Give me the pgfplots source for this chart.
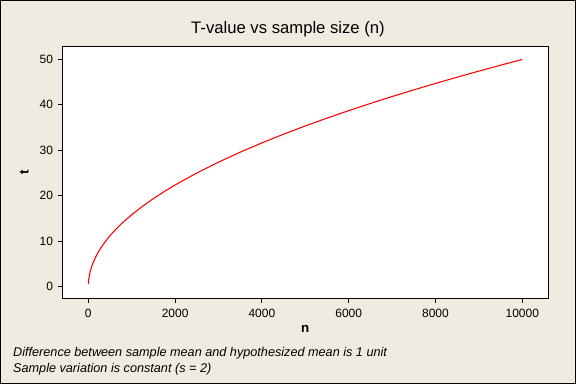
\documentclass[border=0pt]{standalone}
\usepackage{fontspec}
\setmainfont{Liberation Sans}
\usepackage{pgfplots}
\pgfplotsset{compat=1.18}
\definecolor{bgbeige}{RGB}{239,235,225}
\begin{document}
\begin{tikzpicture}[x=0.75pt,y=0.75pt]
\useasboundingbox (0,0) rectangle (576,384);
\fill[bgbeige] (0,0) rectangle (576,384);
\draw[black,line width=0.75pt] (0.375,0.375) rectangle (575.625,383.625);
\node[anchor=base,inner sep=0pt,font=\fontsize{12.5}{14}\selectfont] at (288,350.7) {T-value vs sample size (n)};
\node[anchor=base west,inner sep=0pt,font=\fontsize{9.5}{11}\selectfont\itshape] at (12.9,27.6) {Difference between sample mean and hypothesized mean is 1 unit};
\node[anchor=base west,inner sep=0pt,font=\fontsize{9.5}{11}\selectfont\itshape] at (12.9,11.6) {Sample variation is constant (s = 2)};
\begin{axis}[
  at={(46.725pt,64.275pt)}, anchor=south west,
  width=364.5pt, height=189pt, scale only axis,
  xmin=-600, xmax=10600, ymin=-2.6, ymax=52.9,
  xtick={0,2000,4000,6000,8000,10000},
  ytick={0,10,20,30,40,50},
  scaled x ticks=false,
  tick align=outside, xtick pos=lower, ytick pos=left,
  major tick length=3.4pt,
  tick style={black,line width=0.75pt},
  axis line style={black,line width=0.75pt},
  axis background/.style={fill=white},
  /pgf/number format/assume math mode=true,
  /pgf/number format/1000 sep={},
  ticklabel style={font=\fontsize{9}{10}\selectfont},
  xticklabel style={yshift=-1.5pt},
  xlabel={\textbf{n}}, ylabel={\textbf{t}},
  xlabel style={at={(axis description cs:0.5,-0.122)},anchor=center,font=\fontsize{10}{12}\selectfont},
  ylabel style={at={(axis description cs:-0.078,0.5)},anchor=center,font=\fontsize{10}{12}\selectfont},
]
\addplot[red,line width=0.8pt] coordinates {
(1,0.5) (2,0.7071) (3,0.8660) (5,1.1180) (10,1.5811) (15,1.9365) (20,2.2361) (30,2.7386)
(50,3.5355) (75,4.3301) (100,5) (150,6.1237) (200,7.0711) (250,7.9057) (300,8.6603)
(400,10) (500,11.1803) (600,12.2474) (700,13.2288) (800,14.1421) (1000,15.8114)
(1250,17.6777) (1500,19.3649) (1750,20.9165) (2000,22.3607) (2500,25) (3000,27.3861)
(3500,29.5804) (4000,31.6228) (4500,33.5410) (5000,35.3553) (5500,37.0810)
(6000,38.7298) (6500,40.3113) (7000,41.8330) (7500,43.3013) (8000,44.7214)
(8500,46.0977) (9000,47.4342) (9500,48.7340) (10000,50)
};
\end{axis}
\end{tikzpicture}
\end{document}
